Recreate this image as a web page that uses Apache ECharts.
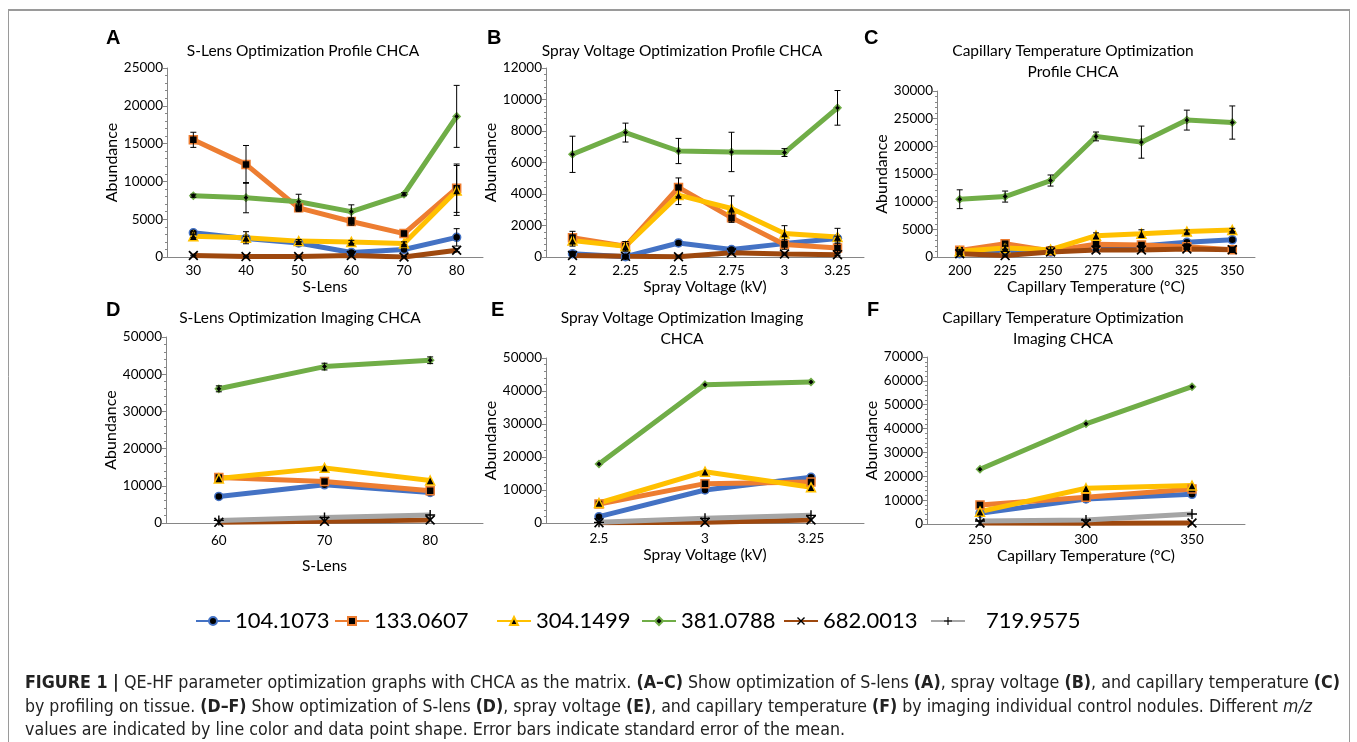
<!DOCTYPE html>
<html>
<head>
<meta charset="utf-8">
<script src="https://cdn.jsdelivr.net/npm/echarts@6/dist/echarts.min.js"></script>
<style>
html,body{margin:0;padding:0;background:#fff;}
#chart{position:absolute;left:0;top:0;width:1357px;height:742px;}
#cap{position:absolute;left:25px;top:670px;font-family:'Liberation Sans Narrow','Arial Narrow','DejaVu Sans Condensed','Liberation Sans',sans-serif;font-size:18px;color:#222;line-height:23.5px;}
#cap .ln{white-space:nowrap;display:block;height:23.5px;}
#cap .ln span{display:inline-block;transform-origin:0 50%;}
</style>
</head>
<body>
<div id="chart"></div>
<div id="cap">
<div class="ln" data-w="1315"><span><b>FIGURE 1 |</b> QE-HF parameter optimization graphs with CHCA as the matrix. <b>(A–C)</b> Show optimization of S-lens <b>(A)</b>, spray voltage <b>(B)</b>, and capillary temperature <b>(C)</b></span></div>
<div class="ln" data-w="1287"><span>by profiling on tissue. <b>(D–F)</b> Show optimization of S-lens <b>(D)</b>, spray voltage <b>(E)</b>, and capillary temperature <b>(F)</b> by imaging individual control nodules. Different <i>m/z</i></span></div>
<div class="ln" data-w="820"><span>values are indicated by line color and data point shape. Error bars indicate standard error of the mean.</span></div>
</div>
<script>
// ---------- DATA ----------
const seriesNames = ['104.1073', '133.0607', '304.1499', '381.0788', '682.0013', '719.9575'];

// Panel A: S-Lens Optimization Profile CHCA
const catA = ['30', '40', '50', '60', '70', '80'];
const a104 = [3200, 2450, 1850, 600, 1000, 2600];
const a133 = [15500, 12250, 6500, 4700, 3100, 9100];
const a304 = [2750, 2550, 2100, 2000, 1800, 8800];
const a381 = [8100, 7850, 7300, 6000, 8300, 18600];
const a682 = [200, 50, 50, 200, 0, 900];
const a104err = [150, 300, 200, 150, 150, 1150];
const a133err = [1000, 2500, 500, 500, 300, 3200];
const a304err = [200, 800, 200, 200, 200, 3300];
const a381err = [200, 2000, 1000, 900, 200, 4100];
const a682err = [50, 50, 50, 50, 50, 200];

// Panel B: Spray Voltage Optimization Profile CHCA
const catB = ['2', '2.25', '2.5', '2.75', '3', '3.25'];
const b104 = [210, 20, 890, 470, 850, 1170];
const b133 = [1230, 680, 4420, 2500, 790, 570];
const b304 = [1040, 680, 3930, 3080, 1490, 1270];
const b381 = [6520, 7900, 6730, 6670, 6630, 9470];
const b682 = [100, 40, 20, 270, 190, 150];
const b104err = [100, 50, 100, 100, 100, 150];
const b133err = [400, 300, 600, 300, 300, 300];
const b304err = [350, 300, 600, 800, 500, 550];
const b381err = [1150, 600, 800, 1250, 250, 1100];
const b682err = [50, 50, 50, 50, 50, 50];

// Panel C: Capillary Temperature Optimization Profile CHCA
const catC = ['200', '225', '250', '275', '300', '325', '350'];
const c104 = [600, 1200, 900, 1800, 2000, 2650, 3100];
const c133 = [1200, 2400, 1090, 2290, 2170, 1870, 1300];
const c304 = [1030, 1630, 1330, 3860, 4220, 4590, 4880];
const c381 = [10440, 10920, 13820, 21790, 20760, 24740, 24300];
const c682 = [600, 250, 900, 1270, 1270, 1450, 1300];
const c104err = [100, 200, 100, 200, 200, 300, 200];
const c133err = [200, 300, 200, 300, 300, 300, 200];
const c304err = [200, 300, 500, 500, 700, 300, 300];
const c381err = [1700, 1000, 1000, 800, 2900, 1800, 3000];
const c682err = [100, 100, 100, 100, 100, 100, 100];

// Panel D: S-Lens Optimization Imaging CHCA
const catD = ['60', '70', '80'];
const d104 = [7140, 10270, 8210];
const d133 = [12230, 11160, 8660];
const d304 = [11960, 14820, 11430];
const d381 = [36070, 42050, 43750];
const d682 = [180, 450, 800];
const d720 = [700, 1500, 2140];
const d381err = [800, 900, 900];

// Panel E: Spray Voltage Optimization Imaging CHCA
const catE = ['2.5', '3', '3.25'];
const e104 = [1920, 10000, 13840];
const e133 = [5760, 11920, 12420];
const e304 = [6060, 15560, 10810];
const e381 = [17880, 41920, 42730];
const e682 = [100, 200, 900];
const e720 = [200, 1410, 2320];

// Panel F: Capillary Temperature Optimization Imaging CHCA
const catF = ['250', '300', '350'];
const f104 = [4480, 10500, 12460];
const f133 = [7980, 11200, 14700];
const f304 = [5180, 14980, 16100];
const f381 = [22960, 42000, 57540];
const f682 = [420, 280, 420];
const f720 = [1260, 1680, 4200];

// y-axis ranges
const yMax = [25000, 12000, 30000, 50000, 50000, 70000];
const yStep = [5000, 2000, 5000, 10000, 10000, 10000];

// ---------- STYLE ----------
const colors = ['#4472C4', '#ED7D31', '#FFC000', '#70AD47', '#9E480E', '#A5A5A5'];
const xPath = 'path://M0,1.2L1.2,0L5,3.8L8.8,0L10,1.2L6.2,5L10,8.8L8.8,10L5,6.2L1.2,10L0,8.8L3.8,5Z';
const plusPath = 'path://M4.3,0H5.7V4.3H10V5.7H5.7V10H4.3V5.7H0V4.3H4.3Z';
const symbols = ['circle', 'rect', 'triangle', 'diamond', xPath, plusPath];
const symSizes = [8, 8, 9, 7, 10, 10];

const grids = [
  {left: 167, top: 68, width: 316, height: 189},
  {left: 546, top: 68, width: 318, height: 189},
  {left: 937, top: 91, width: 318, height: 166},
  {left: 166, top: 337, width: 317, height: 186},
  {left: 546, top: 358, width: 318, height: 165},
  {left: 927, top: 357, width: 318, height: 167}
];
const cats = [catA, catB, catC, catD, catE, catF];
const xNames = ['S-Lens', 'Spray Voltage (kV)', 'Capillary Temperature (°C)', 'S-Lens', 'Spray Voltage (kV)', 'Capillary Temperature (°C)'];
const xNameGap = [18, 20, 20, 35, 21, 21];
const xLabelMargin = [7, 7, 7, 11, 9, 9];
const yNameGap = [40, 37, 36, 39, 37, 36];

const panelSeries = [
  [a104, a133, a304, a381, a682, null],
  [b104, b133, b304, b381, b682, null],
  [c104, c133, c304, c381, c682, null],
  [d104, d133, d304, d381, d682, d720],
  [e104, e133, e304, e381, e682, e720],
  [f104, f133, f304, f381, f682, f720]
];
const panelErrors = [
  [a104err, a133err, a304err, a381err, a682err, null],
  [b104err, b133err, b304err, b381err, b682err, null],
  [c104err, c133err, c304err, c381err, c682err, null],
  [null, null, null, d381err, null, null],
  [null, null, null, null, null, null],
  [null, null, null, null, null, null]
];

const font = 'Lato, "Open Sans", sans-serif';
const axisColor = '#868686';

const xAxes = grids.map((g, i) => ({
  type: 'category', gridIndex: i, data: cats[i], boundaryGap: true,
  name: xNames[i], nameLocation: 'middle', nameGap: xNameGap[i],
  nameTextStyle: {fontFamily: font, fontSize: 15.5, color: '#000'},
  axisLine: {show: true, lineStyle: {color: axisColor, width: 1}},
  axisTick: {show: false},
  axisLabel: {fontFamily: font, fontSize: 13.5, color: '#000', margin: xLabelMargin[i]},
  splitLine: {show: false}
}));
const yAxes = grids.map((g, i) => ({
  type: 'value', gridIndex: i, min: 0, max: yMax[i], interval: yStep[i],
  name: 'Abundance', nameLocation: 'middle', nameGap: yNameGap[i],
  nameTextStyle: {fontFamily: font, fontSize: 16, color: '#000'},
  axisLine: {show: true, lineStyle: {color: axisColor, width: 1}},
  axisTick: {show: true, length: 4, lineStyle: {color: axisColor}},
  minorTick: {show: true, splitNumber: 5, length: 2, lineStyle: {color: axisColor}},
  axisLabel: {fontFamily: font, fontSize: 13.5, color: '#000', margin: 4, formatter: v => String(v)},
  splitLine: {show: false}
}));

const series = [];
panelSeries.forEach((arrs, gi) => {
  arrs.forEach((data, k) => {
    if (!data) return;
    series.push({
      type: 'line', name: seriesNames[k], xAxisIndex: gi, yAxisIndex: gi, data: data,
      symbol: symbols[k], symbolSize: symSizes[k], showAllSymbol: true,
      lineStyle: {color: colors[k], width: 5},
      itemStyle: {color: '#000', borderColor: k < 4 ? colors[k] : '#000', borderWidth: k < 4 ? 1.5 : 0},
      emphasis: {disabled: true}, animation: false, z: 2
    });
  });
  arrs.forEach((data, k) => {
    const err = panelErrors[gi][k];
    if (!data || !err) return;
    series.push({
      type: 'custom', name: 'err' + gi + '_' + k, xAxisIndex: gi, yAxisIndex: gi,
      data: data.map((v, i) => [i, Math.max(0, v - err[i]), v + err[i]]),
      encode: {x: 0, y: [1, 2]}, silent: true, animation: false, z: 4,
      renderItem: function (params, api) {
        const lo = api.coord([api.value(0), api.value(1)]);
        const hi = api.coord([api.value(0), api.value(2)]);
        const w = 3;
        const st = {stroke: '#000', lineWidth: 1};
        return {type: 'group', children: [
          {type: 'line', shape: {x1: lo[0], y1: lo[1], x2: hi[0], y2: hi[1]}, style: st},
          {type: 'line', shape: {x1: hi[0] - w, y1: hi[1], x2: hi[0] + w, y2: hi[1]}, style: st},
          {type: 'line', shape: {x1: lo[0] - w, y1: lo[1], x2: lo[0] + w, y2: lo[1]}, style: st}
        ]};
      }
    });
  });
});

const titleTexts = [
  'S-Lens Optimization Profile CHCA',
  'Spray Voltage Optimization Profile CHCA',
  'Capillary Temperature Optimization\nProfile CHCA',
  'S-Lens Optimization Imaging CHCA',
  'Spray Voltage Optimization Imaging\nCHCA',
  'Capillary Temperature Optimization\nImaging CHCA'
];
const titlePos = [[303, 40], [682, 40], [1073, 40], [300, 307], [682, 307], [1063, 307]];
const titles = titleTexts.map((t, i) => ({
  text: t, left: titlePos[i][0], top: titlePos[i][1], textAlign: 'center', padding: 0,
  textStyle: {fontFamily: font, fontSize: 15.5, fontWeight: 'normal', color: '#000', lineHeight: 21}
}));

const legLeft = [195, 334, 496, 641, 783, 930];
const legends = seriesNames.map((n, i) => ({
  data: [n], left: legLeft[i], top: 610, itemWidth: 34, itemHeight: 10, padding: 0,
  selectedMode: false,
  textStyle: {fontFamily: font, fontSize: 22, color: '#000', padding: i === 5 ? [0, 0, 0, 16] : 0}
}));

const letters = [['A', 106, 28], ['B', 487, 28], ['C', 864, 28], ['D', 106, 300], ['E', 491, 300], ['F', 867, 300]];
const graphics = [
  {type: 'rect', shape: {x: 8.5, y: 10.5, width: 1341, height: 760}, style: {fill: 'none', stroke: '#9a9a9a', lineWidth: 1}, silent: true},
  {type: 'line', shape: {x1: 8, y1: 10, x2: 1350, y2: 10}, style: {stroke: '#9a9a9a', lineWidth: 2}, silent: true}
].concat(letters.map(l => ({
  type: 'text', left: l[1], top: l[2],
  style: {text: l[0], fontFamily: '"Liberation Sans", Arial, sans-serif', fontWeight: 'bold', fontSize: 20, fill: '#000'}
})));

const chart = echarts.init(document.getElementById('chart'), null, {renderer: 'canvas'});
chart.setOption({
  animation: false,
  backgroundColor: '#fff',
  title: titles,
  legend: legends,
  grid: grids,
  xAxis: xAxes,
  yAxis: yAxes,
  series: series,
  graphic: graphics
});

// fit caption lines to their widths
document.querySelectorAll('#cap .ln').forEach(ln => {
  const sp = ln.querySelector('span');
  const target = parseFloat(ln.getAttribute('data-w'));
  const w = sp.getBoundingClientRect().width;
  if (w > 0) sp.style.transform = 'scaleX(' + (target / w) + ')';
});
</script>
</body>
</html>
